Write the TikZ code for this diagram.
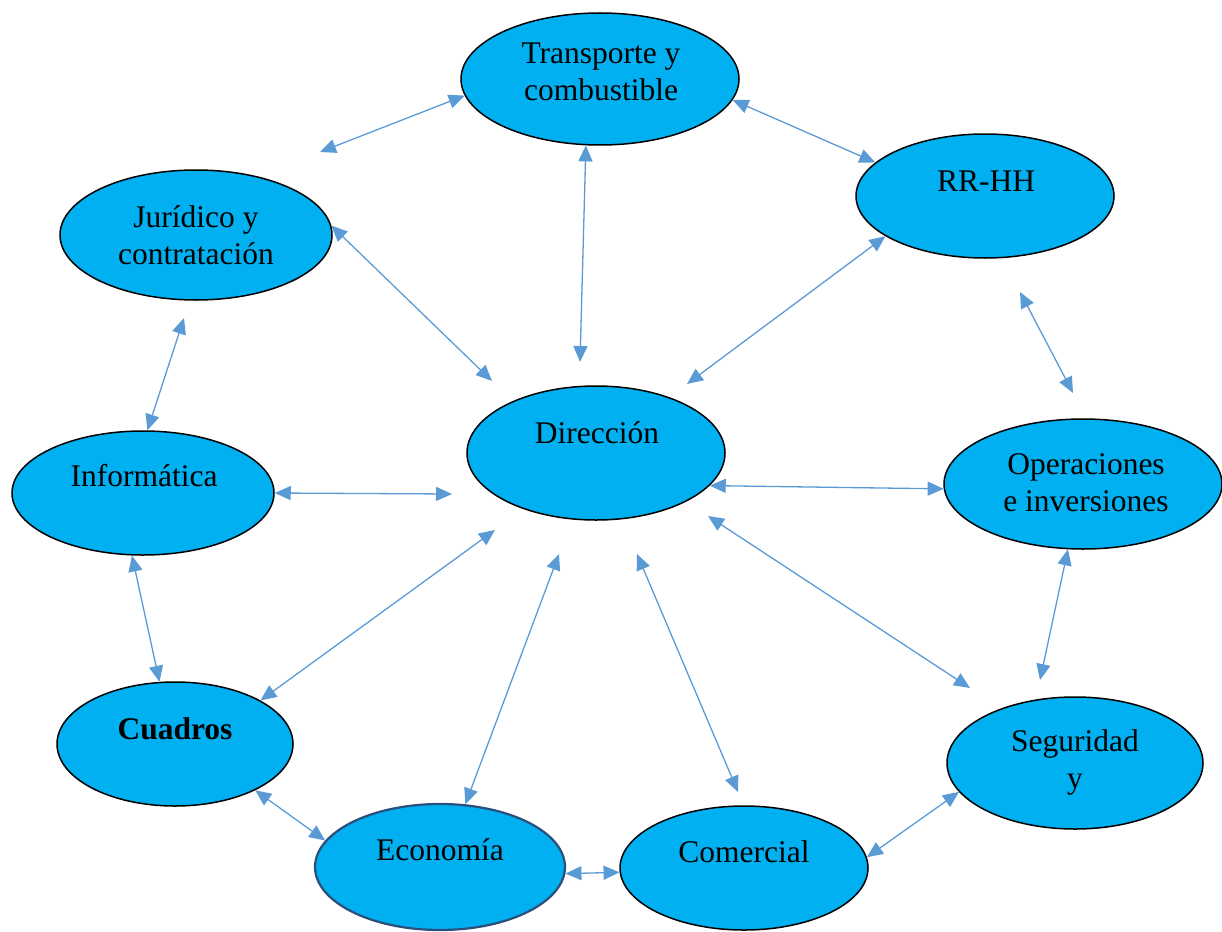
\documentclass[tikz,border=0pt]{standalone}
\usepackage{fontspec}
\setmainfont{Liberation Serif}
\usetikzlibrary{arrows.meta,shapes.geometric}
\definecolor{fillcyan}{HTML}{00B0F0}
\definecolor{arrowblue}{HTML}{5B9BD5}
\definecolor{darkrim}{HTML}{2B4F7A}
\tikzset{
  oval/.style={ellipse, draw=black, line width=1.5pt, fill=fillcyan, inner sep=0pt},
  lbl/.style={align=center, inner sep=0pt, font=\fontsize{31.5}{37}\selectfont, text=black},
  link/.style={draw=arrowblue, line width=1.3pt, {Triangle[length=16pt,width=14pt]}-{Triangle[length=16pt,width=14pt]}}
}
\begin{document}
\begin{tikzpicture}[x=1pt,y=-1pt]
\useasboundingbox (0,0) rectangle (1222,931);
% ellipses
\node[oval, minimum width=278pt, minimum height=132pt] (tra) at (600,79) {};
\node[oval, minimum width=258pt, minimum height=124pt] (rrhh) at (985,196) {};
\node[oval, minimum width=272pt, minimum height=130pt] (jur) at (196,235) {};
\node[oval, minimum width=258pt, minimum height=134pt] (dir) at (596,453) {};
\node[oval, minimum width=262pt, minimum height=124pt] (inf) at (143,493) {};
\node[oval, minimum width=278pt, minimum height=130pt] (ope) at (1083,484) {};
\node[oval, minimum width=236pt, minimum height=124pt] (cua) at (175,744) {};
\node[oval, draw=darkrim, line width=2.2pt, minimum width=250pt, minimum height=126pt] (eco) at (440,867) {};
\node[oval, minimum width=248pt, minimum height=124pt] (com) at (744,868) {};
\node[oval, minimum width=256pt, minimum height=132pt] (seg) at (1075,763) {};
% labels
\node[lbl] (traT) at (601,72) {Transporte y\\combustible};
\node[lbl] (rrhhT) at (986,181) {RR-HH};
\node[lbl] (jurT) at (196,235) {Jurídico y\\contratación};
\node[lbl] (dirT) at (597,433) {Dirección};
\node[lbl] (infT) at (144,476) {Informática};
\node[lbl] (opeT) at (1086,483) {Operaciones\\e inversiones};
\node[lbl] (cuaT) at (175,729) {\bfseries Cuadros};
\node[lbl] (ecoT) at (440,850) {Economía};
\node[lbl] (comT) at (744,852) {Comercial};
\node[lbl] (segT) at (1075,762) {Seguridad\\y};
% free ends
\coordinate (f1) at (320,152);
\coordinate (f3) at (580,362);
\coordinate (f4) at (492,381);
\coordinate (f5) at (687,384);
\coordinate (f6a) at (1020,292);
\coordinate (f6b) at (1073,393);
\coordinate (f7) at (184,318);
\coordinate (f8) at (452,494);
\coordinate (f11) at (495,530);
\coordinate (f12) at (559,554);
\coordinate (f13a) at (637,554);
\coordinate (f13b) at (738,792);
\coordinate (f14a) at (708,516);
\coordinate (f14b) at (970,688);
\coordinate (f15) at (1040,680);
% connectors
\draw[link] (tra.187) -- (f1);
\draw[link] (tra.-9) -- (rrhh.163);
\draw[link] (tra.258) -- (f3);
\draw[link] (jur.4) -- (f4);
\draw[link] (rrhh.202) -- (f5);
\draw[link] (f6a) -- (f6b);
\draw[link] (f7) -- (inf.86);
\draw[link] (inf.0) -- (f8);
\draw[link] (dir.-16) -- (ope.182);
\draw[link] (inf.260) -- (cua.104);
\draw[link] (cua.27) -- (f11);
\draw[link] (eco.68) -- (f12);
\draw[link] (f13a) -- (f13b);
\draw[link] (f14a) -- (f14b);
\draw[link] (ope.257) -- (f15);
\draw[link] (cua.-30) -- (eco.167);
\draw[link] (eco.-3) -- (com.182);
\draw[link] (com.5) -- (seg.194);
\end{tikzpicture}
\end{document}
